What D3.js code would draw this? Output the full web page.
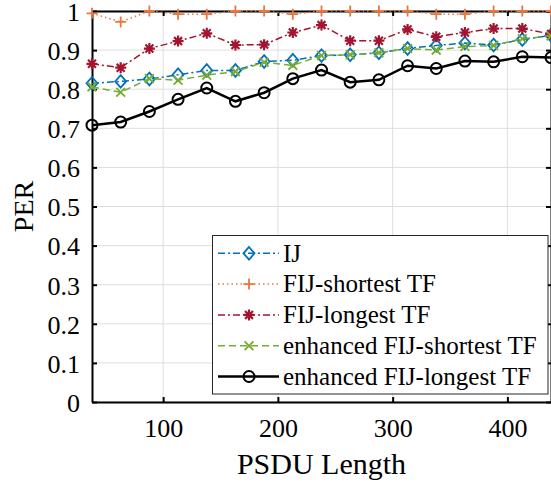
<!DOCTYPE html>
<html>
<head>
<meta charset="utf-8">
<script src="https://cdn.jsdelivr.net/npm/d3@7"></script>
<style>
  body { margin: 0; background: #fff; }
  svg text { font-family: "Liberation Serif", serif; fill: #000; }
</style>
</head>
<body>
<div id="chart"></div>
<script>
// PSDU lengths
const psduLength = [38, 63, 88, 113, 138, 163, 188, 213, 238, 263, 288, 313, 338, 363, 388, 413, 438];

const ijPer = [0.815, 0.82, 0.826, 0.837, 0.848, 0.848, 0.871, 0.874, 0.886, 0.888, 0.893, 0.904, 0.912, 0.918, 0.913, 0.927, 0.938];
const fijShortestPer = [0.994, 0.972, 1.0, 0.992, 0.992, 1.0, 1.0, 0.992, 1.0, 1.0, 1.0, 1.0, 0.992, 0.992, 1.0, 1.0, 1.0];
const fijLongestPer = [0.865, 0.855, 0.904, 0.923, 0.943, 0.913, 0.914, 0.945, 0.964, 0.924, 0.924, 0.953, 0.934, 0.945, 0.955, 0.955, 0.941];
const enhShortestPer = [0.806, 0.792, 0.827, 0.823, 0.836, 0.845, 0.869, 0.861, 0.886, 0.888, 0.893, 0.904, 0.9, 0.909, 0.912, 0.929, 0.936];
const enhLongestPer = [0.708, 0.716, 0.743, 0.774, 0.803, 0.769, 0.791, 0.827, 0.849, 0.818, 0.824, 0.86, 0.853, 0.872, 0.87, 0.883, 0.881];

const seriesNames = ["IJ", "FIJ-shortest TF", "FIJ-longest TF", "enhanced FIJ-shortest TF", "enhanced FIJ-longest TF"];
const seriesValues = [ijPer, fijShortestPer, fijLongestPer, enhShortestPer, enhLongestPer];

const xTicks = [100, 200, 300, 400];
const yTicks = [0, 0.1, 0.2, 0.3, 0.4, 0.5, 0.6, 0.7, 0.8, 0.9, 1];

// styles per series
const styles = [
    { color: "#0072BD", dash: "7,3,2,3", width: 1.5, marker: "diamond" },
    { color: "#E8773F", dash: "1.5,3", width: 1.5, marker: "plus" },
    { color: "#A2142F", dash: "7,3,2,3", width: 1.5, marker: "star" },
    { color: "#77AC30", dash: "7,4", width: 1.5, marker: "x" },
    { color: "#000000", dash: null, width: 2.5, marker: "circle" }
];

const serif = "Liberation Serif";

const width = 551, height = 485;
const margin = { left: 92, right: 0, top: 11, bottom: 83 };

const svg = d3.select("#chart").append("svg")
    .attr("width", width)
    .attr("height", height)
    .attr("font-family", serif);

const x = d3.scaleLinear().domain([38, 438]).range([margin.left, width - margin.right]);
const y = d3.scaleLinear().domain([0, 1]).range([height - margin.bottom, margin.top]);

const x0 = x.range()[0], x1 = x.range()[1];
const y0 = y.range()[0], y1 = y.range()[1];

// grid
svg.append("g").selectAll("line").data(xTicks).join("line")
    .attr("x1", d => x(d)).attr("x2", d => x(d))
    .attr("y1", y0).attr("y2", y1)
    .attr("stroke", "#dedede").attr("stroke-width", 1);
svg.append("g").selectAll("line").data(yTicks).join("line")
    .attr("x1", x0).attr("x2", x1)
    .attr("y1", d => y(d)).attr("y2", d => y(d))
    .attr("stroke", "#dedede").attr("stroke-width", 1);

// axes, ticks inward on all four sides
const xAxis = svg.append("g")
    .attr("transform", `translate(0,${y0})`)
    .call(d3.axisBottom(x).tickValues(xTicks).tickSizeInner(-5).tickSizeOuter(0).tickPadding(12));
const yAxis = svg.append("g")
    .attr("transform", `translate(${x0},0)`)
    .call(d3.axisLeft(y).tickValues(yTicks).tickFormat(d => d === 0 ? "0" : d === 1 ? "1" : d3.format(".1f")(d)).tickSizeInner(-5).tickSizeOuter(0).tickPadding(12));
svg.append("g")
    .attr("transform", `translate(0,${y1})`)
    .call(d3.axisTop(x).tickValues(xTicks).tickSizeInner(-5).tickSizeOuter(0).tickFormat(""));
svg.append("g")
    .attr("transform", `translate(${x1},0)`)
    .call(d3.axisRight(y).tickValues(yTicks).tickSizeInner(-5).tickSizeOuter(0).tickFormat(""));

svg.selectAll("g").attr("font-family", serif);
svg.selectAll(".domain").attr("stroke", "#000").attr("stroke-width", 2);
svg.selectAll(".tick line").attr("stroke", "#000").attr("stroke-width", 2);
svg.selectAll(".tick text").attr("font-size", 26);
xAxis.selectAll(".tick text").attr("dy", "0.9em");
yAxis.selectAll(".tick text").attr("dy", "0.36em");

// axis titles
svg.append("text")
    .attr("x", (x0 + x1) / 2).attr("y", 474)
    .attr("text-anchor", "middle")
    .attr("font-size", 30)
    .text("PSDU Length");
svg.append("text")
    .attr("transform", `translate(33,${(y0 + y1) / 2}) rotate(-90)`)
    .attr("text-anchor", "middle")
    .attr("font-size", 28)
    .text("PER");

function drawMarker(g, type, cx, cy, color) {
    const s = 5.5;
    if (type === "diamond") {
        g.append("path")
            .attr("d", `M${cx},${cy - s * 1.15}L${cx + s},${cy}L${cx},${cy + s * 1.15}L${cx - s},${cy}Z`)
            .attr("fill", "none").attr("stroke", color).attr("stroke-width", 1.8);
    } else if (type === "plus") {
        g.append("path")
            .attr("d", `M${cx - s},${cy}H${cx + s}M${cx},${cy - s}V${cy + s}`)
            .attr("stroke", color).attr("stroke-width", 1.8);
    } else if (type === "star") {
        const d = s * 0.72;
        g.append("path")
            .attr("d", `M${cx - s},${cy}H${cx + s}M${cx},${cy - s}V${cy + s}M${cx - d},${cy - d}L${cx + d},${cy + d}M${cx - d},${cy + d}L${cx + d},${cy - d}`)
            .attr("stroke", color).attr("stroke-width", 2.2);
    } else if (type === "x") {
        const d = s * 0.8;
        g.append("path")
            .attr("d", `M${cx - d},${cy - d}L${cx + d},${cy + d}M${cx - d},${cy + d}L${cx + d},${cy - d}`)
            .attr("stroke", color).attr("stroke-width", 1.8);
    } else if (type === "circle") {
        g.append("circle")
            .attr("cx", cx).attr("cy", cy).attr("r", 5.5)
            .attr("fill", "none").attr("stroke", color).attr("stroke-width", 2);
    }
}

const line = d3.line().x(d => x(d[0])).y(d => y(d[1]));

seriesValues.forEach((vals, i) => {
    const st = styles[i];
    const pts = psduLength.map((p, j) => [p, vals[j]]);
    const g = svg.append("g");
    g.append("path")
        .datum(pts)
        .attr("d", line)
        .attr("fill", "none")
        .attr("stroke", st.color)
        .attr("stroke-width", st.width)
        .attr("stroke-dasharray", st.dash);
    pts.forEach(p => drawMarker(g, st.marker, x(p[0]), y(p[1]), st.color));
});

// legend
const legend = svg.append("g").attr("font-family", serif);
legend.append("rect")
    .attr("x", 212.5).attr("y", 235.5)
    .attr("width", 335.5).attr("height", 158.5)
    .attr("fill", "#fff")
    .attr("stroke", "#262626").attr("stroke-width", 1);

seriesNames.forEach((name, i) => {
    const st = styles[i];
    const ly = 253.3 + i * 30.8;
    legend.append("line")
        .attr("x1", 218).attr("x2", 279)
        .attr("y1", ly).attr("y2", ly)
        .attr("stroke", st.color)
        .attr("stroke-width", st.width)
        .attr("stroke-dasharray", st.dash);
    drawMarker(legend, st.marker, 249, ly, st.color);
    legend.append("text")
        .attr("x", 283).attr("y", ly)
        .attr("dy", "0.33em")
        .attr("font-size", 25)
        .text(name);
});
</script>
</body>
</html>
